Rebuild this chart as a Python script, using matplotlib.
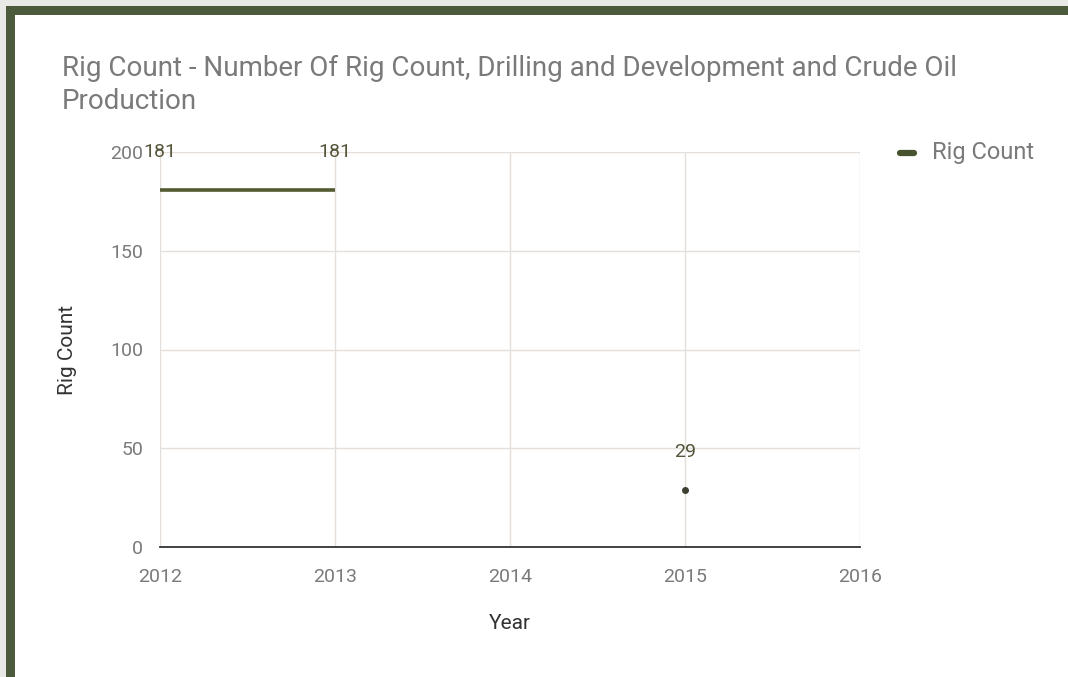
import numpy as np
import matplotlib
matplotlib.use("Agg")
import matplotlib.pyplot as plt
from matplotlib.patches import Rectangle

plt.rcParams['font.family'] = ['Roboto', 'DejaVu Sans']

# data
years = [2012, 2013, 2014, 2015, 2016]
rig_count = [181, 181, np.nan, 29, np.nan]
y_ticks = [0, 50, 100, 150, 200]

title = "Rig Count - Number Of Rig Count, Drilling and Development and Crude Oil\nProduction"
line_color = "#535a30"
grid_color = "#e4dfda"
text_gray = "#7a7a7a"

fig = plt.figure(figsize=(10.68, 6.77), dpi=100)
fig.patch.set_facecolor("white")

# frame: light gray outer strip + dark green border on left and top
fig.patches.append(Rectangle((0, 0), 1, 1, transform=fig.transFigure,
                             facecolor="#e8e8e6", edgecolor="none", zorder=-3))
fig.patches.append(Rectangle((6 / 1068, 0), 1, 1 - 6 / 677, transform=fig.transFigure,
                             facecolor="#4a5a3b", edgecolor="none", zorder=-2))
fig.patches.append(Rectangle((15 / 1068, 0), 1, 1 - 15 / 677, transform=fig.transFigure,
                             facecolor="white", edgecolor="none", zorder=-1))

ax = fig.add_axes([160 / 1068, 1 - 547 / 677, 700 / 1068, 395 / 677])
ax.set_facecolor("none")

x = np.array(years, dtype=float)
y = np.array(rig_count, dtype=float)
ax.plot(x, y, color=line_color, linewidth=2.6, solid_capstyle="butt", zorder=3)

# isolated points (no neighbours) drawn as dots
valid = ~np.isnan(y)
for i in range(len(y)):
    if not valid[i]:
        continue
    left = i > 0 and valid[i - 1]
    right = i < len(y) - 1 and valid[i + 1]
    if not left and not right:
        ax.plot(x[i], y[i], "o", color="#3d3f30", markersize=4, zorder=4)

# value labels
for xi, yi in zip(x, y):
    if np.isnan(yi):
        continue
    ax.annotate(f"{int(yi)}", (xi, yi), xytext=(0, 38), textcoords="offset pixels",
                ha="center", va="center", fontsize=14, color="#55553a", zorder=5)

ax.set_xlim(2012, 2016)
ax.set_ylim(0, 200)
ax.set_xticks(years)
ax.set_xticklabels([str(v) for v in years])
ax.set_yticks(y_ticks)

ax.grid(True, color=grid_color, linewidth=1.0)
ax.set_axisbelow(True)
for s in ["top", "right", "left"]:
    ax.spines[s].set_visible(False)
ax.spines["bottom"].set_color("#333333")
ax.spines["bottom"].set_linewidth(1.3)
ax.spines["bottom"].set_zorder(6)

ax.tick_params(axis="both", length=0, labelsize=14, labelcolor=text_gray)
ax.tick_params(axis="x", pad=15)
ax.tick_params(axis="y", pad=12)

ax.set_xlabel("Year", fontsize=15, color="#333333", labelpad=20)
ax.set_ylabel("Rig Count", fontsize=15, color="#333333", labelpad=24)

fig.text(62 / 1068, 1 - 85 / 677, title, fontsize=20, color=text_gray,
         ha="left", va="center", linespacing=1.25)

# legend
fig.lines.append(plt.Line2D([900 / 1068, 914 / 1068], [1 - 153 / 677, 1 - 153 / 677],
                            transform=fig.transFigure, color="#46532e", linewidth=4.5,
                            solid_capstyle="round"))
fig.text(932 / 1068, 1 - 153 / 677, "Rig Count", fontsize=17, color=text_gray,
         ha="left", va="center")

fig.savefig("out.png", dpi=100)
